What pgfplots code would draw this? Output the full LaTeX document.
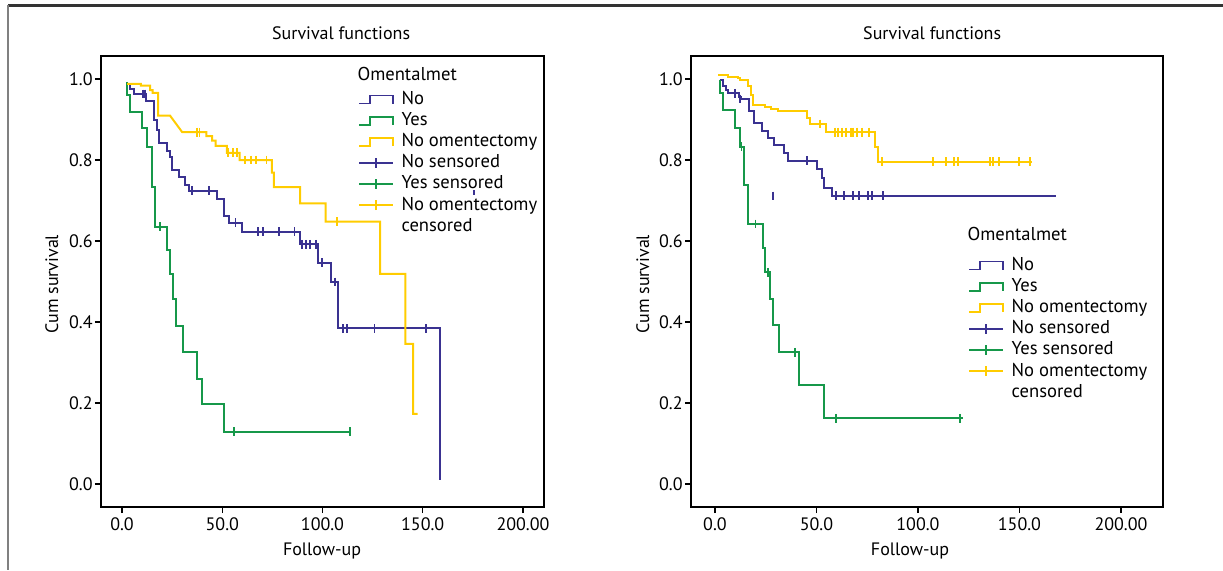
\documentclass[border=0pt]{standalone}
\usepackage{fontspec}
\setmainfont{PT Sans}
\usepackage{pgfplots}
\pgfplotsset{compat=1.18}

\definecolor{kmblue}{RGB}{58,50,145}
\definecolor{kmgreen}{RGB}{22,152,74}
\definecolor{kmyellow}{RGB}{255,204,0}

\pgfplotsset{
  kmstep/.style={legend image code/.code={\draw[##1,line width=0.9pt] (0pt,-2pt) -- (5.3pt,-2pt) -- (5.3pt,2pt) -- (16.7pt,2pt) -- (16.7pt,-2pt);}},
  kmcens/.style={legend image code/.code={\draw[##1,line width=0.9pt] (0pt,0pt) -- (16.7pt,0pt) (8.35pt,-2.5pt) -- (8.35pt,2.5pt);}},
  kmline/.style={line width=1pt, const plot, forget plot},
  kmmark/.style={only marks, mark=|, mark size=2.2pt, mark options={line width=0.9pt}, forget plot},
  kmaxis/.style={
    scale only axis,
    height=225.5pt,
    ymin=-0.057, ymax=1.057,
    axis line style={line width=0.7pt},
    tick style={black, line width=0.6pt},
    tick align=outside, major tick length=3pt,
    xtick pos=left, ytick pos=left,
    xtick={0,50,100,150,200},
    xticklabels={0.0,50.0,100.0,150.0,200.00},
    ytick={0,0.2,0.4,0.6,0.8,1.0},
    yticklabels={0.0,0.2,0.4,0.6,0.8,1.0},
    /pgf/number format/assume math mode=true,
    ticklabel style={font=\fontsize{9}{10}\selectfont},
    yticklabel style={inner sep=1pt},
    xticklabel style={inner sep=2pt},
    label style={font=\fontsize{9}{10}\selectfont},
    title style={font=\fontsize{9}{10}\selectfont, anchor=center},
    title={Survival functions},
    xlabel={Follow-up},
    ylabel={Cum survival},
    legend style={draw=none, fill=none, inner sep=0pt, column sep=1.5pt,
      row sep=1.55pt, font=\fontsize{9.3}{10}\selectfont,
      nodes={inner xsep=2.5pt, inner ysep=0pt, text height=7pt, text depth=2pt},
      anchor=north west},
    legend cell align=left,
  }
}

\begin{document}
\begin{tikzpicture}
\useasboundingbox (0,0) rectangle (611.5pt,285pt);
\draw[line width=1.5pt, black!80] (4pt,282.5pt) -- (611.5pt,282.5pt);
\draw[line width=0.6pt, black!50] (4pt,282.5pt) -- (4pt,0pt);

% ---------------- LEFT ----------------
\begin{axis}[kmaxis,
  at={(50.5pt,31.5pt)}, anchor=south west,
  width=221.5pt, xmin=-10.5, xmax=210.5,
  title style={at={(axis description cs:0.542,1.0244)}},
  xlabel style={at={(axis description cs:0.499,-0.0976)}, anchor=center},
  ylabel style={at={(axis description cs:-0.111,0.494)}, anchor=center},
  legend style={at={(axis description cs:0.580,0.971)}},
]
% No
\addplot[kmblue, kmline] coordinates {
(2.5,0.989) (4.1,0.975) (6.1,0.963) (11.9,0.946) (15.7,0.900) (17.3,0.874)
(18.6,0.841) (22.3,0.822) (23.9,0.807) (25.1,0.775) (28.5,0.757) (31.5,0.738)
(33.5,0.724) (47.4,0.705) (50.8,0.662) (53.6,0.645) (59.6,0.623) (88.6,0.592)
(97.9,0.546) (104.1,0.499) (107.8,0.384) (158.6,0.384) (158.6,0.010)
};
% Yes
\addplot[kmgreen, kmline] coordinates {
(2.5,0.993) (2.5,0.960) (4.1,0.918) (10.2,0.878) (12.4,0.831) (14.7,0.734)
(16.3,0.635) (22.6,0.578) (23.8,0.519) (25.5,0.456) (26.9,0.391) (30.2,0.325)
(37.5,0.260) (39.9,0.198) (50.8,0.129) (113.7,0.129)
};
% No omentectomy
\addplot[kmyellow, line width=1pt, sharp plot, forget plot] coordinates {
(2.5,0.988) (9.4,0.988) (9.4,0.984) (14.0,0.984) (14.0,0.973) (15.2,0.973)
(15.2,0.966) (18.0,0.966) (18.0,0.910) (23.9,0.910) (30.0,0.869) (42.1,0.869)
(42.1,0.859) (44.9,0.859) (44.9,0.848) (46.7,0.848) (46.7,0.835) (52.3,0.835)
(52.3,0.818) (58.6,0.818) (58.6,0.800) (74.8,0.800) (74.8,0.769) (75.7,0.769)
(75.7,0.733) (88.8,0.733) (88.8,0.693) (101.5,0.693) (101.5,0.648) (128.7,0.648)
(128.7,0.519) (141.4,0.519) (141.4,0.346) (145.2,0.346) (145.2,0.173) (147.5,0.173)
};
% censored
\addplot[kmblue, kmmark] coordinates {
(10.4,0.963) (11.5,0.963) (34.8,0.724) (43.4,0.724) (56.6,0.645)
(67.8,0.623) (70.5,0.623) (78.4,0.623) (86.0,0.623)
(89.6,0.592) (91.6,0.592) (93.6,0.592) (96.9,0.592)
(99.8,0.546) (106.1,0.499)
(110.1,0.384) (112.4,0.384) (125.9,0.384) (151.6,0.384)
};
\addplot[kmblue, only marks, mark=|, mark size=1.2pt, mark options={line width=0.6pt}, forget plot] coordinates {(175.6,0.720)};
\addplot[kmgreen, kmmark] coordinates {
(18.8,0.635) (55.8,0.129) (113.7,0.129)
};
\addplot[kmyellow, kmmark] coordinates {
(37.5,0.869) (38.6,0.869) (53.0,0.818) (55.3,0.818) (57.3,0.818)
(61.5,0.800) (64.2,0.800) (66.8,0.800) (72.1,0.800) (107.3,0.648)
};
\addlegendimage{empty legend}\addlegendentry{\hspace*{-22pt}\raisebox{1.5pt}{Omentalmet}}
\addlegendimage{kmstep, kmblue}\addlegendentry{No}
\addlegendimage{kmstep, kmgreen}\addlegendentry{Yes}
\addlegendimage{kmstep, kmyellow}\addlegendentry{No omentectomy}
\addlegendimage{kmcens, kmblue}\addlegendentry{No sensored}
\addlegendimage{kmcens, kmgreen}\addlegendentry{Yes sensored}
\addlegendimage{kmcens, kmyellow}\addlegendentry{No omentectomy}
\addlegendimage{empty legend}\addlegendentry{censored}
\end{axis}

% ---------------- RIGHT ----------------
\begin{axis}[kmaxis,
  at={(345.5pt,31.5pt)}, anchor=south west,
  width=236pt, xmin=-11.8, xmax=220.7,
  title style={at={(axis description cs:0.511,1.0244)}},
  xlabel style={at={(axis description cs:0.464,-0.0976)}, anchor=center},
  ylabel style={at={(axis description cs:-0.102,0.494)}, anchor=center},
  legend style={at={(axis description cs:0.587,0.603)}},
]
% No
\addplot[kmblue, kmline] coordinates {
(2.3,0.998) (3.9,0.984) (5.3,0.973) (6.6,0.965) (11.8,0.955) (12.8,0.951)
(16.7,0.922) (19.1,0.892) (23.3,0.872) (26.3,0.855) (29.2,0.836) (33.8,0.817)
(36.1,0.798) (50.2,0.777) (52.5,0.755) (53.5,0.730) (57.8,0.712) (168.0,0.712)
};
% Yes
\addplot[kmgreen, kmline] coordinates {
(2.3,0.998) (2.3,0.966) (3.9,0.923) (9.9,0.880) (12.5,0.833) (14.1,0.738)
(16.1,0.642) (23.6,0.582) (24.6,0.523) (26.9,0.456) (28.4,0.392) (31.7,0.325)
(41.5,0.244) (53.8,0.162) (122.0,0.162)
};
% No omentectomy
\addplot[kmyellow, kmline] coordinates {
(1.6,1.011) (6.6,1.006) (11.2,1.002) (12.5,0.998) (16.4,0.983) (17.7,0.960)
(18.7,0.936) (24.6,0.930) (27.6,0.925) (30.9,0.922) (45.3,0.903) (47.0,0.889)
(54.7,0.869) (78.8,0.831) (80.1,0.796) (156.0,0.796)
};
% censored
\addplot[kmblue, kmmark] coordinates {
(9.9,0.965) (12.4,0.951) (45.3,0.798) (28.4,0.711)
(59.8,0.712) (63.4,0.712) (68.0,0.712) (70.9,0.712) (75.2,0.712) (77.2,0.712) (82.8,0.712)
};
\addplot[kmgreen, kmmark] coordinates {
(13.1,0.833) (20.0,0.642) (26.0,0.523) (39.4,0.325) (59.6,0.162) (120.8,0.162)
};
\addplot[kmyellow, kmmark] coordinates {
(51.9,0.889) (59.1,0.869) (60.8,0.869) (62.4,0.869) (64.4,0.869) (67.0,0.869)
(68.0,0.869) (70.0,0.869) (72.3,0.869) (75.9,0.869)
(82.1,0.796) (107.4,0.796) (113.9,0.796) (117.6,0.796) (119.9,0.796)
(135.3,0.796) (137.0,0.796) (139.9,0.796) (149.8,0.796) (155.0,0.796)
};
\addlegendimage{empty legend}\addlegendentry{\hspace*{-22pt}\raisebox{4.5pt}{Omentalmet}}
\addlegendimage{kmstep, kmblue}\addlegendentry{No}
\addlegendimage{kmstep, kmgreen}\addlegendentry{Yes}
\addlegendimage{kmstep, kmyellow}\addlegendentry{No omentectomy}
\addlegendimage{kmcens, kmblue}\addlegendentry{No sensored}
\addlegendimage{kmcens, kmgreen}\addlegendentry{Yes sensored}
\addlegendimage{kmcens, kmyellow}\addlegendentry{No omentectomy}
\addlegendimage{empty legend}\addlegendentry{censored}
\end{axis}
\end{tikzpicture}
\end{document}
